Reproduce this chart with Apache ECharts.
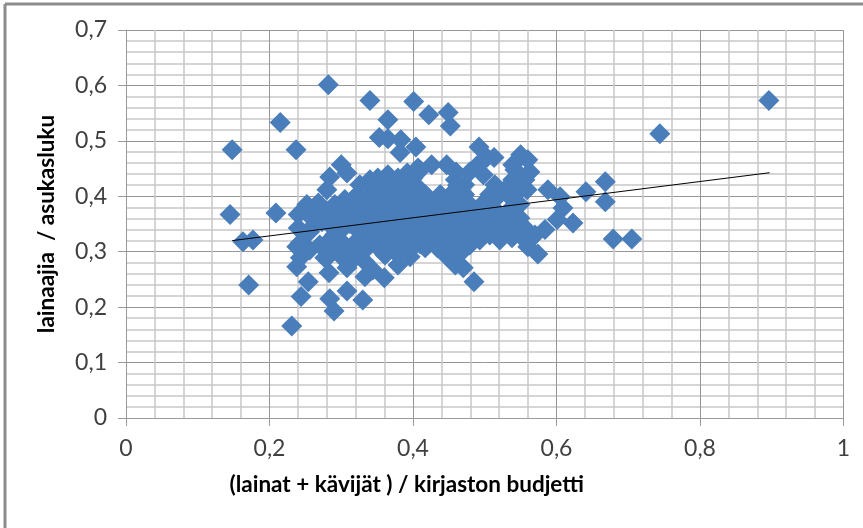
<!DOCTYPE html>
<html>
<head>
<meta charset="utf-8">
<style>
  html, body { margin: 0; padding: 0; background: #fff; }
  #chart { width: 863px; height: 528px; }
</style>
</head>
<body>
<div id="chart"></div>
<script src="https://cdn.jsdelivr.net/npm/echarts@6/dist/echarts.min.js"></script>
<script>
const xName = '(lainat + kävijät ) / kirjaston budjetti';
const yName = 'lainaajia  / asukasluku';

// values, [budget ratio, borrowers ratio]
const outliers = [
  [.282,.601],[.896,.573],[.340,.573],[.401,.571],[.449,.551],[.422,.547],[.452,.527],[.365,.538],
  [.215,.533],[.744,.513],[.353,.506],[.365,.504],[.383,.502],[.382,.479],[.404,.489],[.148,.484],
  [.237,.484],[.492,.489],[.145,.367],[.209,.370],[.163,.318],[.177,.321],[.171,.240],[.231,.166],
  [.244,.219],[.284,.215],[.290,.193],[.308,.229],[.330,.213],[.485,.246],[.668,.426],[.641,.408],
  [.668,.390],[.679,.323],[.705,.323],[.623,.352],[.574,.296],
];
const clusterLeft = [
  [.300,.457],[.308,.442],[.284,.435],[.280,.412],[.240,.367],[.252,.385],[.270,.379],[.238,.309],
  [.243,.316],[.256,.303],[.238,.273],[.254,.246],[.283,.262],[.308,.271],[.333,.255],[.344,.267],
  [.360,.253],[.379,.276],[.396,.291],[.270,.312],[.284,.321],[.298,.340],[.319,.316],[.333,.303],
  [.305,.303],[.284,.294],[.263,.349],[.240,.343],[.256,.336],[.273,.354],[.291,.385],[.305,.394],
  [.326,.421],[.351,.417],[.364,.424],[.392,.442],[.243,.289],[.277,.289],
  [.249,.331],[.259,.361],[.284,.349],[.291,.303],[.305,.285],[.319,.289],[.333,.282],[.268,.388],
  [.340,.421],[.379,.433],[.376,.412],[.396,.421],
];
const clusterCore = [
  [.323,.403],[.343,.405],[.362,.401],[.379,.403],[.417,.403],[.438,.403],[.454,.405],
  [.312,.385],[.333,.387],[.354,.383],[.375,.385],[.396,.382],[.417,.385],[.438,.387],[.459,.385],
  [.277,.367],[.305,.369],[.326,.365],[.347,.367],[.368,.369],[.389,.365],[.410,.367],[.431,.369],[.452,.365],[.472,.367],
  [.284,.349],[.312,.351],[.333,.347],[.354,.349],[.375,.351],[.396,.347],[.417,.349],[.438,.351],[.459,.347],[.479,.349],
  [.291,.331],[.333,.333],[.354,.329],[.375,.331],[.396,.333],[.417,.329],[.438,.331],[.459,.333],[.479,.329],
  [.298,.312],[.347,.314],[.368,.310],[.389,.312],[.410,.314],[.431,.321],[.417,.307],[.434,.307],[.452,.312],
  [.361,.294],[.378,.296],[.445,.294],[.459,.276],[.470,.271],[.468,.300],[.479,.312],[.452,.290],
  [.426,.457],[.447,.457],[.403,.444],[.459,.430],[.403,.412],[.400,.433],[.462,.420],
  [.355,.403],[.370,.420],[.390,.425],[.340,.395],
  [.316,.394],[.337,.394],[.357,.394],[.378,.394],[.423,.394],[.444,.394],
  [.301,.376],[.322,.376],[.343,.376],[.364,.376],[.385,.376],[.406,.376],[.427,.376],[.447,.376],[.468,.376],
  [.270,.358],[.294,.358],[.315,.358],[.336,.358],[.357,.358],[.378,.358],[.399,.358],[.420,.358],[.440,.358],[.461,.358],
  [.301,.340],[.322,.340],[.343,.340],[.364,.340],[.385,.340],[.406,.340],[.427,.340],[.447,.340],[.468,.340],[.488,.340],
  [.298,.321],[.337,.321],[.358,.321],[.379,.321],[.400,.321],[.444,.321],[.465,.321],
  [.355,.303],[.378,.303],[.396,.303],
  [.410,.447],[.460,.444],[.472,.421],[.410,.412],[.465,.403],[.407,.451],[.340,.430],[.365,.439],[.351,.433],
  [.391,.398],[.405,.398],
];
const clusterRight = [
  [.489,.455],[.513,.470],[.479,.444],[.498,.439],[.514,.421],[.521,.403],[.507,.385],[.496,.385],
  [.535,.399],[.549,.412],[.542,.448],[.539,.457],[.560,.466],[.550,.475],[.563,.444],[.556,.430],
  [.559,.412],[.588,.412],[.605,.399],[.609,.379],[.601,.358],[.584,.340],[.549,.385],[.535,.376],
  [.521,.367],[.507,.358],[.493,.343],[.535,.349],[.549,.361],[.549,.330],[.528,.336],[.507,.330],
  [.493,.321],[.521,.321],[.538,.325],[.560,.321],[.560,.309],[.570,.330],[.472,.403],[.479,.385],
  [.493,.367],[.514,.376],[.535,.361],[.556,.343],[.514,.343],[.479,.336],[.539,.430],[.528,.412],
  [.507,.403],[.503,.470],
];
const trendLine = [[.148,.32],[.897,.4425]];

const branches = outliers.concat(clusterLeft, clusterCore, clusterRight);

const decimalComma = (v) => String(v).replace('.', ',');
const font = 'Lato';

const myChart = echarts.init(document.getElementById('chart'), null, { renderer: 'canvas' });

const axisCommon = {
  type: 'value',
  min: 0,
  nameLocation: 'middle',
  axisLine: { show: true, lineStyle: { color: '#9a9a9a', width: 1 } },
  axisTick: { show: true, length: 8, lineStyle: { color: '#9a9a9a', width: 1 } },
  axisLabel: { fontFamily: font, fontSize: 23, color: '#404040', formatter: decimalComma, margin: 19, showMinLabel: true, showMaxLabel: true },
  splitLine: { show: true, lineStyle: { color: '#969696', width: 1 } },
  minorTick: { show: false, splitNumber: 5 },
  minorSplitLine: { show: true, lineStyle: { color: '#c8c8c8', width: 1.5 } },
};
const nameStyle = { fontFamily: font, fontSize: 22.5, fontWeight: 'bold', color: '#000' };

myChart.setOption({
  animation: false,
  backgroundColor: '#fff',
  grid: { left: 126, right: 19.5, top: 30, bottom: 110 },
  graphic: [
    { type: 'line', shape: { x1: 5, y1: 4, x2: 863, y2: 4 }, style: { stroke: '#8c8c8c', lineWidth: 3 } },
    { type: 'line', shape: { x1: 5, y1: 4, x2: 5, y2: 528 }, style: { stroke: '#8c8c8c', lineWidth: 3 } },
  ],
  xAxis: {
    ...axisCommon, max: 1, interval: 0.2, name: xName, nameGap: 55,
    nameTextStyle: { ...nameStyle, padding: [0, 156, 0, 0] },
  },
  yAxis: {
    ...axisCommon, max: 0.7, interval: 0.1, name: yName, nameGap: 68,
    nameTextStyle: nameStyle,
  },
  series: [
    {
      type: 'scatter',
      symbol: 'diamond',
      symbolSize: 21,
      itemStyle: { color: '#4a7ebb', opacity: 1 },
      silent: true,
      data: branches,
      z: 2,
    },
    {
      type: 'line',
      symbol: 'none',
      silent: true,
      lineStyle: { color: '#000', width: 1 },
      data: trendLine,
      z: 3,
    },
  ],
});
</script>
</body>
</html>
